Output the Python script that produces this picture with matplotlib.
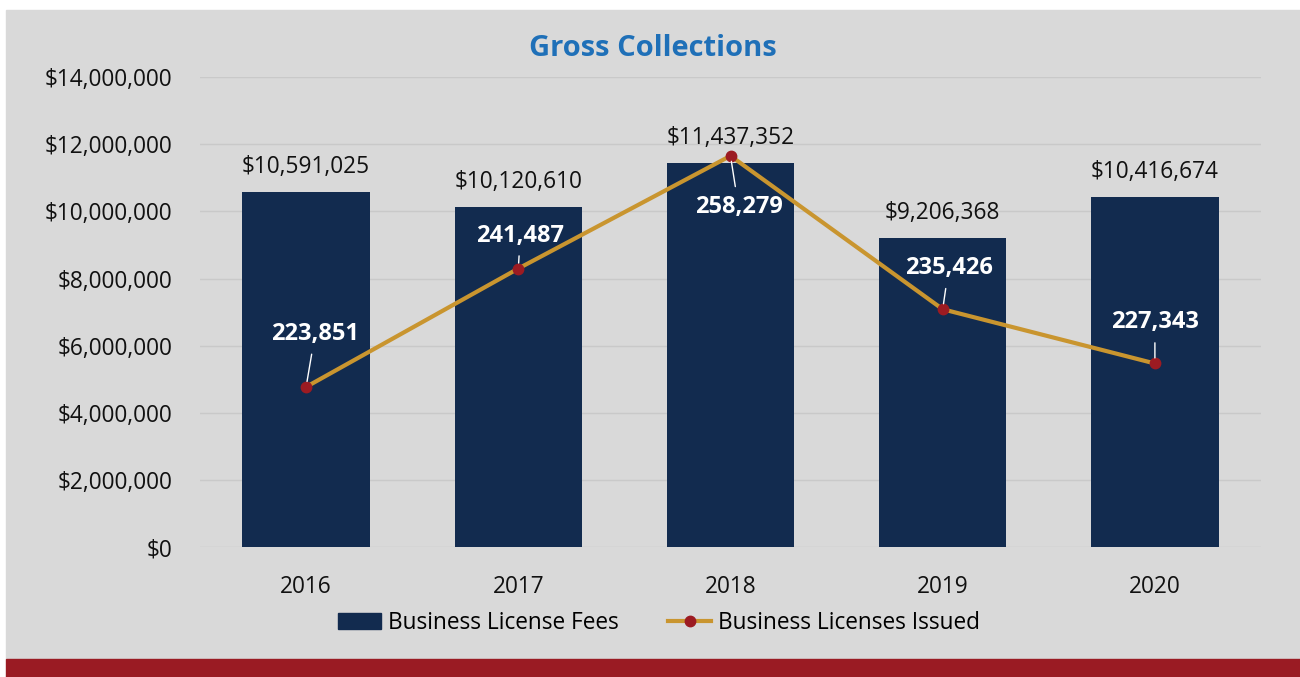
import matplotlib.pyplot as plt
from matplotlib.patches import Rectangle
from matplotlib.lines import Line2D
from matplotlib.ticker import FuncFormatter

plt.rcParams['font.family'] = ['Open Sans', 'DejaVu Sans']

years = ['2016', '2017', '2018', '2019', '2020']
fees = [10591025, 10120610, 11437352, 9206368, 10416674]
issued = [223851, 241487, 258279, 235426, 227343]
# label offsets for the line labels (pixels, text centre relative to point)
label_offsets = [(9, 53), (2, 33), (8, -51), (6, 41), (0, 41)]

bar_color = '#122b4f'
line_color = '#c9952f'
marker_color = '#9c1b22'
panel_color = '#d9d9d9'
fs = 16.3

fig = plt.figure(figsize=(13, 6.77), dpi=100)
fig.patch.set_facecolor('white')
fig.patches.append(Rectangle((6 / 1300, 18 / 677), 1 - 6 / 1300, 1 - 28 / 677,
                             transform=fig.transFigure, color=panel_color, zorder=-2))
fig.patches.append(Rectangle((6 / 1300, 0), 1 - 6 / 1300, 18 / 677,
                             transform=fig.transFigure, color='#9a1b23', zorder=-2))

ax = fig.add_axes([200 / 1300, 0.192, 1061 / 1300, 0.694])
ax.set_facecolor('none')
x = range(len(years))
ax.bar(x, fees, width=0.6, color=bar_color, zorder=2, label='Business License Fees')
ax.set_ylim(0, 14000000)
ax.set_xlim(-0.5, 4.5)
ax.set_yticks(range(0, 14000001, 2000000))
ax.yaxis.set_major_formatter(FuncFormatter(lambda v, p: '${:,.0f}'.format(v)))
ax.set_xticks(list(x))
ax.set_xticklabels(years)
ax.tick_params(length=0, labelsize=fs, colors='#111111')
ax.tick_params(axis='y', pad=20)
ax.tick_params(axis='x', pad=20)
ax.grid(axis='y', color='#c9c9c9', linewidth=1, zorder=0)
for s in ax.spines.values():
    s.set_visible(False)

for i, v in enumerate(fees):
    ax.annotate('${:,.0f}'.format(v), (i, v), xytext=(0, 25), textcoords='offset pixels',
                ha='center', va='center', fontsize=fs, color='#111111')

ax2 = ax.twinx()
ax2.set_ylim(200000, 270000)
ax2.axis('off')
ax2.plot(x, issued, color=line_color, linewidth=3, marker='o', markersize=7.5,
         markerfacecolor=marker_color, markeredgecolor=marker_color, zorder=3)
for i, v in enumerate(issued):
    dx, dy = label_offsets[i]
    ax2.annotate('{:,}'.format(v), (i, v), xytext=(dx, dy), textcoords='offset pixels',
                 ha='center', va='center', fontsize=17, fontweight='bold', color='white',
                 arrowprops=dict(arrowstyle='-', color='white', lw=1, shrinkA=4, shrinkB=4))

fig.text(653 / 1300, 1 - 49 / 677, 'Gross Collections', ha='center', va='center',
         fontsize=21, fontweight='bold', color='#1f70b8')

handles = [Rectangle((0, 0), 1, 1, color=bar_color),
           Line2D([0], [0], color=line_color, linewidth=3, marker='o', markersize=7.5,
                  markerfacecolor=marker_color, markeredgecolor=marker_color)]
fig.legend(handles, ['Business License Fees', 'Business Licenses Issued'],
           loc='center', bbox_to_anchor=(659 / 1300, 1 - 623 / 677), ncol=2,
           frameon=False, fontsize=fs, handlelength=1.9, columnspacing=2.2,
           handletextpad=0.3)

fig.savefig('out.png', dpi=100, facecolor=fig.get_facecolor())
